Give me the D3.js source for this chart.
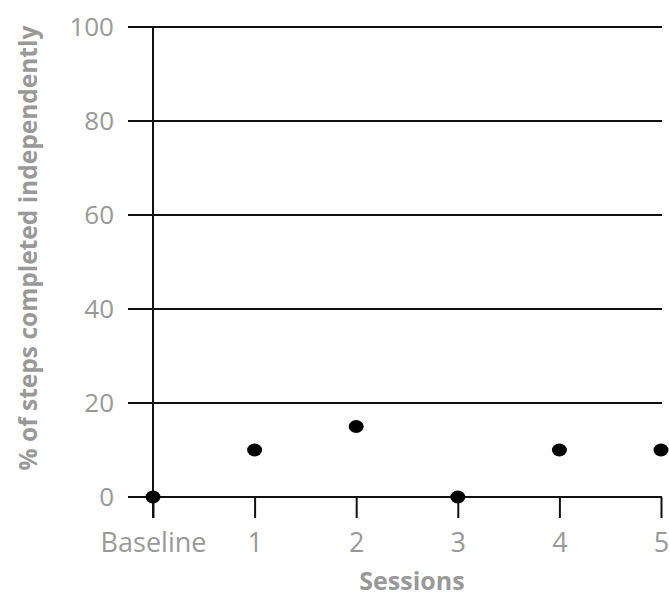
<!DOCTYPE html>
<html>
<head>
<meta charset="utf-8">
<script src="https://cdn.jsdelivr.net/npm/d3@7"></script>
<style>
    body { margin: 0; background: #fff; }
    svg text { font-family: "Open Sans", "DejaVu Sans", sans-serif; }
</style>
</head>
<body>
<svg id="chart"></svg>
<script>
// data
const sessions = ['Baseline', '1', '2', '3', '4', '5'];
const percentValues = [0, 10, 15, 0, 10, 10];
const yTicks = [0, 20, 40, 60, 80, 100];

const W = 669, H = 597;
const svg = d3.select('#chart').attr('width', W).attr('height', H);

// 绘图区
const x = d3.scalePoint().domain(sessions).range([153, 661]);
const y = d3.scaleLinear().domain([0, 100]).range([497, 27]);

// 网格线
svg.append('g')
    .selectAll('line')
    .data(yTicks)
    .join('line')
    .attr('x1', 128)
    .attr('x2', 662)
    .attr('y1', d => y(d))
    .attr('y2', d => y(d))
    .attr('stroke', '#111')
    .attr('stroke-width', 2);

// y 轴竖线
svg.append('line')
    .attr('x1', x('Baseline')).attr('x2', x('Baseline'))
    .attr('y1', y(100)).attr('y2', y(0) + 21)
    .attr('stroke', '#111').attr('stroke-width', 2);

// x 轴刻度
const xAxis = svg.append('g')
    .attr('transform', `translate(0,${y(0)})`)
    .call(d3.axisBottom(x).tickSize(21));
xAxis.select('.domain').remove();
xAxis.selectAll('.tick line').attr('stroke', '#111').attr('stroke-width', 2);
xAxis.selectAll('.tick text')
    .attr('y', 55)
    .attr('dy', 0)
    .attr('fill', '#999')
    .style('font-size', '27px');

// y 轴标签
const yAxis = svg.append('g')
    .attr('transform', 'translate(128,0)')
    .call(d3.axisLeft(y).tickValues(yTicks).tickSize(0).tickPadding(14));
yAxis.select('.domain').remove();
yAxis.selectAll('.tick text')
    .attr('fill', '#999')
    .style('font-size', '26px');

// 数据点
svg.append('g')
    .selectAll('ellipse')
    .data(sessions.map((s, i) => ({ s, v: percentValues[i] })))
    .join('ellipse')
    .attr('cx', d => x(d.s))
    .attr('cy', d => y(d.v))
    .attr('rx', 7.5)
    .attr('ry', 6.5)
    .attr('fill', '#000');

// 轴标题
svg.append('text')
    .attr('x', 412).attr('y', 590)
    .attr('text-anchor', 'middle')
    .attr('fill', '#999')
    .style('font-size', '25px')
    .style('font-weight', 'bold')
    .text('Sessions');

svg.append('text')
    .attr('transform', 'translate(37,248) rotate(-90)')
    .attr('text-anchor', 'middle')
    .attr('fill', '#999')
    .style('font-size', '24.5px')
    .style('font-weight', 'bold')
    .text('% of steps completed independently');
</script>
</body>
</html>
